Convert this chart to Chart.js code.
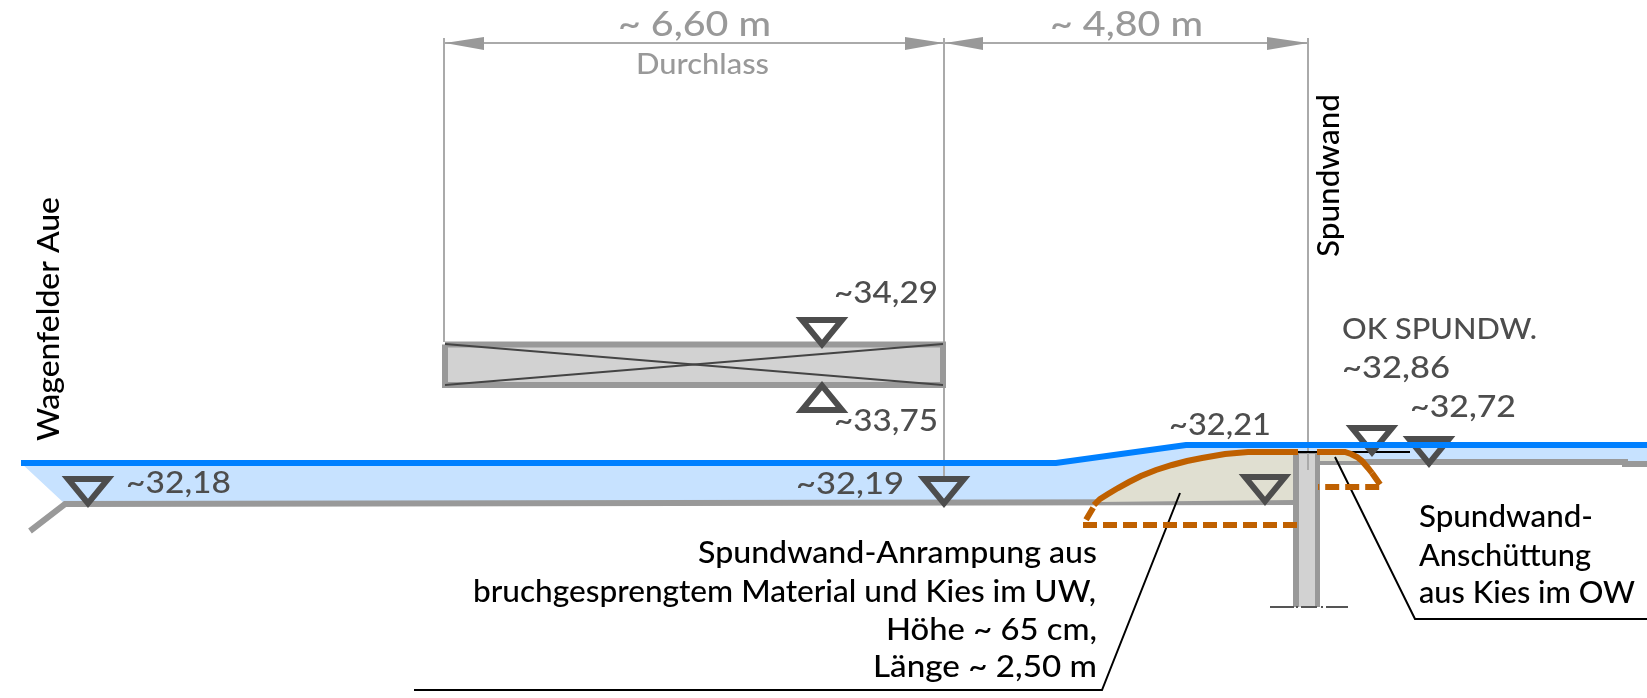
<!DOCTYPE html>
<html lang="de">
<head>
<meta charset="utf-8">
<title>Spundwand-Anrampung Wagenfelder Aue</title>
<style>html,body{margin:0;padding:0;background:#fff}#wrap{width:1647px;height:698px}</style>
<script src="https://cdn.jsdelivr.net/npm/chart.js@4"></script>
</head>
<body>
<div id="wrap"><canvas id="c" width="1647" height="698"></canvas></div>
<script>
// Section geometry, in the diagram's own units
const waterBody = [[21,463],[1056,463],[1186,445],[1647,445],[1647,462],[1293,462],[1293,503],[65,504]];
const waterSurface = [[21,463],[1056,463],[1186,445],[1647,445]];
const bedLeft = [[30,531],[65,504],[1293,502]];
const bedRight = [[1318,462],[1625,462],[1625,464],[1647,464]];
const rampFill = [[1096,502],[1118,488],[1141,477],[1172,466],[1202,458],[1225,454],[1248,452],[1294,452],[1294,500]];
const rampTop = [[1094,505],[1100,499],[1108,494],[1118,488],[1129,482],[1141,476],[1156,470],[1172,465],[1187,461],[1202,458],[1225,454],[1248,452],[1298,452]];
const rampBelow = [[1297,525],[1083,525],[1096,503]];
const fillOW = [[1319,452],[1347,452],[1358,458],[1361,461],[1319,461]];
const fillOWTop = [[1317,452],[1345,452],[1351,454],[1357,457],[1362,461],[1368,468],[1372,473]];
const fillOWBelow = [[1372,473],[1382,487],[1318,487]];
const pile = [[1293,452],[1320,452],[1320,607],[1293,607]];
const pileCore = [[1299,454],[1315,454],[1315,607],[1299,607]];
const culvert = [[445,344.5],[943,344.5],[943,385],[445,385]];
const culvertCrossA = [[445,344],[943,385]];
const culvertCrossB = [[445,385],[943,344]];
const dimLine = [[445,43],[1308,43]];
const dimLeft = [[444,38],[444,342]];
const dimMiddle = [[944,38],[944,480]];
const dimRight = [[1308,38],[1308,470]];
const arrowA = [[445,43],[484,37],[484,50]];
const arrowB = [[944,43],[905,37],[905,50]];
const arrowC = [[945,43],[983,37],[983,50]];
const arrowD = [[1308,43],[1267,37],[1267,50]];
const okLine = [[1297,452],[1410,452]];
const leaderRamp = [[1180,493],[1102,690],[414,690]];
const leaderFill = [[1335,457],[1415,619],[1647,619]];
const baseDashA = [[1270,607],[1294,607]];
const baseDotA = [[1296,607],[1298,607]];
const baseDashB = [[1301,607],[1317,607]];
const baseDotB = [[1321,607],[1323,607]];
const baseDashC = [[1326,607],[1348,607]];
const levelMarksDown = [[88,492],[944,492],[1265,490],[1372,441],[1429,452],[822,333]];
const levelMarksUp = [[822,397]];

// text, x, baseline y, target width, anchor
const labelTexts = ["~ 6,60 m","Durchlass","~ 4,80 m","~34,29","~33,75","~32,18","~32,19","~32,21","OK SPUNDW.","~32,86","~32,72",
  "Spundwand-","Anschüttung","aus Kies im OW","Spundwand-Anrampung aus","bruchgesprengtem Material und Kies im UW,","Höhe ~ 65 cm,","Länge ~ 2,50 m"];
const labelX = [618,636,1050,834,834,126,796,1169,1342,1342,1410,1419,1419,1419,698,473,886,873];
const labelY = [36,74,36,303,431,493,494,435,339,378,417,527,566,603,563,602,640,677];
const labelW = [153,133,153,104,104,105,108,102,195,108,106,174,172,216,399,623,211,224];
const labelSize = [34,29,34,30,30,30,30,30,28,30,30,30,30,30,30,30,30,30];
const labelColor = ["#999","#999","#999","#4d4d4d","#4d4d4d","#4d4d4d","#4d4d4d","#4d4d4d","#4d4d4d","#4d4d4d","#4d4d4d",
  "#000","#000","#000","#000","#000","#000","#000"];
const sideTexts = ["Wagenfelder Aue","Spundwand"];
const sideX = [59,1339];
const sideBottom = [441,257];
const sideLength = [244,163];

function levelSymbol(flip){
  const cv=document.createElement('canvas');cv.width=60;cv.height=40;
  const g=cv.getContext('2d');g.strokeStyle='#4d4d4d';g.lineWidth=6;g.lineJoin='miter';g.miterLimit=10;
  g.translate(30,20);if(flip)g.scale(1,-1);
  g.beginPath();g.moveTo(-20,-13);g.lineTo(20,-13);g.lineTo(0,11.3);g.closePath();g.stroke();
  return cv;
}
const pts=a=>a.map(p=>({x:p[0],y:p[1]}));
const line=(a,color,width,extra)=>Object.assign({data:pts(a),showLine:true,pointRadius:0,borderColor:color,borderWidth:width,fill:false,tension:0},extra||{});
const closed=a=>a.concat([a[0]]);
const shape=(a,bg,border,width)=>line(closed(a),border||'transparent',width||0,{fill:'shape',backgroundColor:bg});
const gray='#999',lineGray='#aaa',orange='#bf6000';
const list=[
  shape(waterBody,'#c7e2ff'),
  line(bedLeft,gray,6),
  line(bedRight,gray,6),
  shape(rampFill,'#e0dfd1'),
  shape(fillOW,'#e0dfd1'),
  line(dimLeft,lineGray,2),
  line(dimMiddle,lineGray,2),
  line(dimLine,lineGray,2),
  shape(arrowA,gray),shape(arrowB,gray),shape(arrowC,gray),shape(arrowD,gray),
  shape(culvert,'#d2d2d2',gray,6),
  line(culvertCrossA,'#444',2),
  line(culvertCrossB,'#444',2),
  shape(pile,gray),
  shape(pileCore,'#d2d2d2'),
  line(dimRight,lineGray,2),
  line(baseDashA,'#555',2),line(baseDotA,'#555',2),line(baseDashB,'#555',2),line(baseDotB,'#555',2),line(baseDashC,'#555',2),
  line(leaderRamp,'#000',2),
  line(leaderFill,'#000',2),
  line(okLine,'#000',2),
  line(rampTop,orange,6),
  line(rampBelow,orange,6,{borderDash:[14,6]}),
  line(fillOWTop,orange,6),
  line(fillOWBelow,orange,6,{borderDash:[14,6]}),
  {data:pts(levelMarksDown),showLine:false,pointStyle:levelSymbol(false),pointRadius:1},
  {data:pts(levelMarksUp),showLine:false,pointStyle:levelSymbol(true),pointRadius:1},
  line(waterSurface,'#0080ff',6)
];
list.forEach((d,i)=>{d.order=-i;});

const FONT='500 30px Lato';
const textPlugin={id:'texts',afterDraw(chart){
  const c=chart.ctx,X=chart.scales.x,Y=chart.scales.y;
  c.save();c.textBaseline='alphabetic';c.textAlign='left';
  labelTexts.forEach((t,i)=>{
    c.font='500 '+labelSize[i]+'px Lato';c.fillStyle=labelColor[i];
    const m=c.measureText(t).width;
    c.save();c.translate(X.getPixelForValue(labelX[i]),Y.getPixelForValue(labelY[i]));
    c.scale(labelW[i]/m,1);c.fillText(t,0,0);c.restore();
  });
  sideTexts.forEach((t,i)=>{
    c.font=FONT;c.fillStyle='#000';
    const m=c.measureText(t).width;
    c.save();c.translate(X.getPixelForValue(sideX[i]),Y.getPixelForValue(sideBottom[i]));
    c.rotate(-Math.PI/2);c.scale(sideLength[i]/m,1);c.fillText(t,0,0);c.restore();
  });
  c.restore();
}};
new Chart(document.getElementById('c'),{
  type:'scatter',
  data:{datasets:list},
  plugins:[textPlugin],
  options:{
    responsive:false,animation:false,events:[],devicePixelRatio:1,
    layout:{padding:0,autoPadding:false},
    plugins:{legend:{display:false},tooltip:{enabled:false},title:{display:false}},
    scales:{
      x:{type:'linear',min:0,max:1647,display:false},
      y:{type:'linear',min:0,max:698,reverse:true,display:false}
    }
  }
});
</script>
</body>
</html>
